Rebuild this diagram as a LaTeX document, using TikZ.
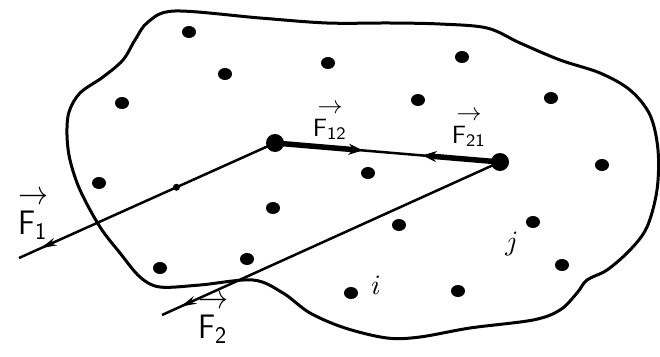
\documentclass[tikz,border=0pt]{standalone}
\usetikzlibrary{arrows.meta,decorations.markings,calc,shapes.geometric}
\begin{document}
\begin{tikzpicture}[x=1pt,y=-1pt,
  dot/.style={ellipse,fill=black,inner sep=0pt,minimum width=14pt,minimum height=12pt},
  smalldot/.style={circle,fill=black,inner sep=0pt,minimum size=7pt},
  particle/.style={circle,fill=black,inner sep=0pt,minimum size=18pt},
  thinline/.style={line width=2.5pt},
  force/.style={line width=5.5pt},
  outline/.style={line width=3pt},
  biglbl/.style={font=\sffamily,inner sep=0pt,xscale=3.0,yscale=3.4,transform shape},
  lbl/.style={font=\sffamily,inner sep=0pt,xscale=2.5,yscale=2.5,transform shape},
  idx/.style={inner sep=0pt,scale=2.8,transform shape},
  endtip/.style={postaction={decorate},decoration={markings,
     mark=at position #1 with {\arrow{Stealth[length=16pt,width=8pt]}}}},
]
\newcommand{\vecF}[1]{$\mathop{\mathsf{F}_{\mathsf{#1}}}\limits^{\textstyle\rightarrow}$}
\useasboundingbox (0,0) rectangle (660,356);
\fill[white] (0,0) rectangle (660,356);
% body outline
\draw[outline] plot[smooth cycle, tension=0.55] coordinates {
 (175,11) (260,18) (327,23) (390,23) (440,24) (487,28) (520,43) (560,60)
 (600,73) (630,90) (650,115) (658,150) (657,190) (647,227) (630,250)
 (607,270) (587,280) (577,293) (560,310) (533,320) (470,328) (420,337)
 (387,338) (345,328) (310,313) (283,293) (253,280) (200,285) (160,287)
 (140,277) (120,253) (100,227) (80,190) (70,160) (67,135) (69,112)
 (80,93) (103,77) (123,60) (135,40) (148,22)};
% particles
\node[dot] (d1) at (189,32) {};
\node[dot] (d2) at (225,74) {};
\node[dot] (d3) at (328,63) {};
\node[dot] (d4) at (462,57) {};
\node[dot] (d5) at (122,103) {};
\node[dot] (d6) at (418,100) {};
\node[dot] (d7) at (551,98) {};
\node[dot] (d8) at (602,165) {};
\node[dot] (d9) at (99,183) {};
\node[dot] (d10) at (273,208) {};
\node[dot] (d11) at (368,173) {};
\node[dot] (d12) at (399,225) {};
\node[dot] (d13) at (533,222) {};
\node[dot] (d14) at (562,265) {};
\node[dot] (d15) at (160,268) {};
\node[dot] (d16) at (247,259) {};
\node[dot] (d17) at (351,293) {};
\node[dot] (d18) at (458,291) {};
\node[particle] (p1) at (275,143) {};
\node[particle] (p2) at (500,162) {};
% parallelogram sides and resultant directions
\coordinate (e1) at (19,258);
\coordinate (e2) at (162,315);
\draw[thinline,endtip=0.915] (p1.center) -- (e1);
\draw[thinline,endtip=0.945] (p2.center) -- (e2);
\node[smalldot] (m) at ($(p1.center)!0.385!(e1)$) {};
% interaction forces
\draw[thinline] (p1.center) -- (p2.center);
\coordinate (a12) at ($(p1.center)!0.39!(p2.center)$);
\coordinate (a21) at ($(p1.center)!0.655!(p2.center)$);
\draw[force,-{Stealth[length=14pt,width=11pt]}] (p1.center) -- (a12);
\draw[force,-{Stealth[length=14pt,width=11pt]}] (p2.center) -- (a21);
% labels
\node[lbl] (l12) at (330,121) {\vecF{12}};
\node[lbl] (l21) at (469,128) {\vecF{21}};
\node[biglbl] (l1) at (33,214) {\vecF{1}};
\node[biglbl] (l2) at (213,318) {\vecF{2}};
\node[idx] (li) at (376,285) {$i$};
\node[idx] (lj) at (512,244) {$j$};
\end{tikzpicture}
\end{document}
